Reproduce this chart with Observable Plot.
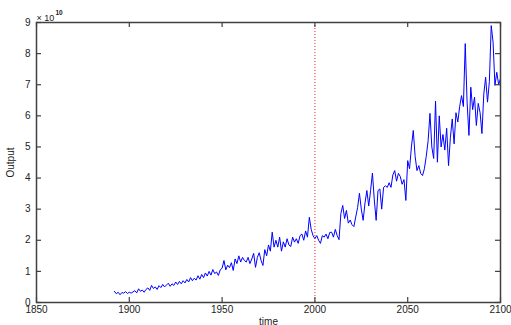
<!DOCTYPE html>
<html>
<head>
<meta charset="utf-8">
<script src="https://cdn.jsdelivr.net/npm/d3@7"></script>
<script src="https://cdn.jsdelivr.net/npm/@observablehq/plot@0.6"></script>
<style>
  html, body { margin: 0; padding: 0; background: #fff; }
</style>
</head>
<body>
<div id="chart"></div>
<script>
// Output series, in units of 1e10, one value per year starting 1892
const startYear = 1892;
const output = [
  0.36, 0.28, 0.33, 0.25, 0.32, 0.30, 0.35, 0.29,
  0.33, 0.30, 0.34, 0.38, 0.31, 0.44, 0.36, 0.40, 0.33, 0.42,
  0.47, 0.39, 0.55, 0.45, 0.50, 0.42, 0.54, 0.48, 0.58, 0.50,
  0.56, 0.62, 0.52, 0.60, 0.55, 0.66, 0.58, 0.68, 0.60, 0.70,
  0.63, 0.74, 0.66, 0.80, 0.70, 0.78, 0.72, 0.86, 0.75, 0.90,
  0.80, 0.95, 0.85, 1.00, 0.88, 1.06, 0.93, 0.98, 0.87, 1.05,
  1.10, 1.35, 1.05, 1.20, 1.12, 1.28, 1.03, 1.40, 1.25, 1.50,
  1.30, 1.45, 1.35, 1.30, 1.45, 1.25, 1.40, 1.58, 1.13, 1.45,
  1.60, 1.35, 1.19, 1.70, 1.50, 1.85, 1.65, 2.26, 1.78, 2.00,
  1.78, 2.10, 1.65, 1.95, 1.78, 2.05, 1.85, 1.80, 2.10, 1.94,
  2.05, 1.90, 2.15, 2.20, 2.00, 2.30, 2.10, 2.74, 2.35, 2.15,
  2.05, 2.15, 2.00, 1.90, 2.15, 2.10, 2.20, 2.05, 2.25, 2.26,
  2.10, 2.35, 2.15, 2.02, 2.86, 3.12, 2.70, 2.96, 2.55, 2.65,
  2.50, 2.44, 2.75, 3.05, 3.51, 3.00, 2.64, 3.20, 3.60, 3.10,
  3.60, 4.16, 3.30, 2.64, 3.60, 3.65, 3.00, 3.70, 3.75, 3.70,
  3.85, 3.70, 4.10, 4.24, 3.90, 4.15, 4.05, 3.80, 3.95, 3.28,
  4.56, 4.30, 5.00, 5.53, 4.70, 4.24, 4.40, 4.15, 4.08, 4.30,
  4.70, 5.20, 6.08, 5.00, 4.63, 6.47, 4.51, 6.00, 5.00, 5.40,
  4.90, 5.60, 4.40, 5.30, 5.90, 5.10, 6.10, 5.80, 6.30, 6.65,
  6.30, 8.32, 6.44, 5.37, 6.92, 6.20, 6.60, 5.69, 6.40, 6.10,
  5.43, 6.70, 7.24, 6.44, 7.10, 8.90, 8.37, 6.98, 7.40, 7.00,
  7.20
];
const xTicks = [1850, 1900, 1950, 2000, 2050, 2100];
const yTicks = [0, 1, 2, 3, 4, 5, 6, 7, 8, 9];
const markerYears = [2000];
const xLabel = "time";
const yLabel = "Output";
const exponentBase = "× 10";
const exponent = "10";

const data = output.map((v, i) => ({year: startYear + i, value: v}));
const axisColor = "#404040";

const W = 511, H = 325, mL = 36, mR = 11, mT = 22, mB = 23;
const fw = W - mL - mR, fh = H - mT - mB, tk = 5;

const chart = Plot.plot({
  width: W,
  height: H,
  marginLeft: mL,
  marginRight: mR,
  marginTop: mT,
  marginBottom: mB,
  style: {fontFamily: "'Liberation Sans', Arial, sans-serif", fontSize: "10px", color: "#222", background: "#fff"},
  x: {domain: [1850, 2100]},
  y: {domain: [0, 9]},
  marks: [
    Plot.line(data, {x: "year", y: "value", stroke: "#0000ff", strokeWidth: 1}),
    Plot.ruleX(markerYears, {stroke: "#ff2020", strokeWidth: 1, strokeDasharray: "1,2"}),
    Plot.frame({stroke: axisColor, strokeWidth: 1.5}),
    // inward tick marks on all four sides
    Plot.ruleX(xTicks, {stroke: axisColor, strokeWidth: 1.2, insetTop: fh - tk}),
    Plot.ruleX(xTicks, {stroke: axisColor, strokeWidth: 1.2, insetBottom: fh - tk}),
    Plot.ruleY(yTicks, {stroke: axisColor, strokeWidth: 1.2, insetRight: fw - tk}),
    Plot.ruleY(yTicks, {stroke: axisColor, strokeWidth: 1.2, insetLeft: fw - tk}),
    Plot.axisX({ticks: xTicks, anchor: "bottom", tickSize: 0, tickPadding: 3, tickFormat: d => String(d),
      label: xLabel, labelAnchor: "center", labelArrow: "none", labelOffset: 22}),
    Plot.axisY({ticks: yTicks, anchor: "left", tickSize: 0, tickPadding: 6, tickFormat: d => String(d),
      label: yLabel, labelAnchor: "center", labelArrow: "none", labelOffset: 30}),
    Plot.text([exponentBase], {frameAnchor: "top-left", text: d => d, dx: 0, dy: -8, textAnchor: "start", fontSize: 9, fill: "#222"}),
    Plot.text([exponent], {frameAnchor: "top-left", text: d => d, dx: 19, dy: -12, textAnchor: "start", fontSize: 6.5, fontWeight: "bold", fill: "#222"})
  ]
});
document.getElementById("chart").appendChild(chart);
</script>
</body>
</html>
